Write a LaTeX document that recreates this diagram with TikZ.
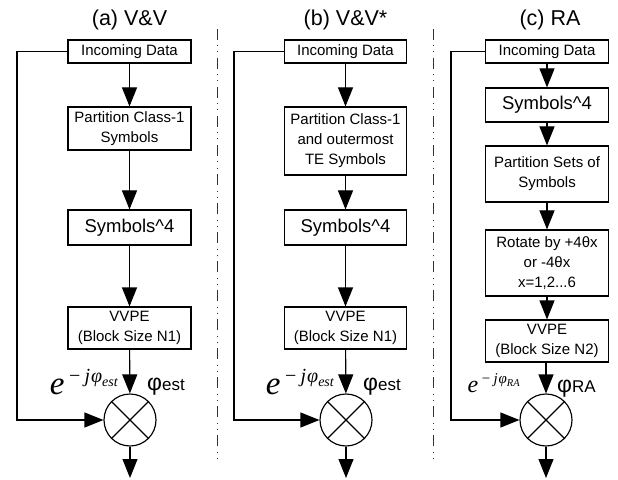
\documentclass[tikz,border=0pt]{standalone}
\usepackage{fontspec}
\setmainfont{Liberation Sans}
\newfontfamily\tms{Liberation Serif}
\usetikzlibrary{arrows.meta}
\newcommand\fsz[2]{\fontsize{#1bp}{#2bp}\selectfont}
\begin{document}
\begin{tikzpicture}[x=1bp,y=-1bp,
  lw/.style={line width=1.15bp},
  box/.style={draw, lw, inner sep=0pt, align=center, minimum width=123bp, fill=white, font=\fsz{15}{20}},
  bigbox/.style={box, font=\fsz{18.5}{22}},
  mix/.style={draw, lw, circle, minimum size=52bp, inner sep=0pt},
  arr/.style={lw, -{Triangle[length=19bp,width=15bp]}},
  ttl/.style={font=\fsz{21.5}{24}, inner sep=0pt},
  sepline/.style={line width=0.8bp, black!80, dash pattern=on 11bp off 5.5bp on 1bp off 5bp on 1bp off 5.5bp},
  lab/.style={inner sep=0pt}
]
\useasboundingbox (0,0) rectangle (618,480);

% ---------- column (a) ----------
\node[ttl] (ta) at (129.5,20) {(a) V\&V};
\node[box, minimum height=23bp] (ia) at (129.5,51.5) {Incoming Data};
\node[box, minimum height=43bp] (pa) at (129.5,128.5) {Partition Class-1\\Symbols};
\node[bigbox, minimum height=35bp] (sa) at (129.5,227.5) {Symbols\^{}4};
\node[box, minimum height=42bp] (va) at (129.5,328) {VVPE\\(Block Size N1)};
\node[mix] (ma) at (130,420) {};
\draw[lw] (ma.north west) -- (ma.south east) (ma.north east) -- (ma.south west);
\coordinate (fa) at (17,420);
\coordinate (oa) at (130,478);
\draw[arr] (ia) -- (pa);
\draw[arr] (pa) -- (sa);
\draw[arr] (sa) -- (va);
\draw[arr] (va) -- (ma);
\draw[arr] (ia.west) -| (fa) -- (ma.west);
\draw[arr] (ma.south) -- (oa);
\node[lab, anchor=base east] (ea) at (118,394) {\tms\itshape\fsz{33}{33}e\raisebox{12bp}{\fsz{20}{20}\,−\,j\kern1bp φ\raisebox{-4bp}{\fsz{14}{14}est}}};
\node[lab, anchor=base west] (pha) at (147,390) {\fsz{23}{23}φ\fsz{17}{17}est};

% ---------- column (b) ----------
\node[ttl] (tb) at (345.5,20) {(b) V\&V*};
\node[box, minimum height=23bp, minimum width=122bp] (ib) at (345.5,51.5) {Incoming Data};
\node[box, minimum height=68bp, minimum width=122bp] (pb) at (345.5,141) {Partition Class-1\\and outermost\\TE Symbols};
\node[bigbox, minimum height=35bp, minimum width=122bp] (sb) at (345.5,227.5) {Symbols\^{}4};
\node[box, minimum height=42bp, minimum width=122bp] (vb) at (345.5,328) {VVPE\\(Block Size N1)};
\node[mix] (mb) at (346,420) {};
\draw[lw] (mb.north west) -- (mb.south east) (mb.north east) -- (mb.south west);
\coordinate (fb) at (234,420);
\coordinate (ob) at (346,478);
\draw[arr] (ib) -- (pb);
\draw[arr] (pb) -- (sb);
\draw[arr] (sb) -- (vb);
\draw[arr] (vb) -- (mb);
\draw[arr] (ib.west) -| (fb) -- (mb.west);
\draw[arr] (mb.south) -- (ob);
\node[lab, anchor=base east] (eb) at (334,394) {\tms\itshape\fsz{33}{33}e\raisebox{12bp}{\fsz{20}{20}\,−\,j\kern1bp φ\raisebox{-4bp}{\fsz{14}{14}est}}};
\node[lab, anchor=base west] (phb) at (363,390) {\fsz{23}{23}φ\fsz{17}{17}est};

% ---------- column (c) ----------
\node[ttl] (tc) at (550,20) {(c) RA};
\node[box, minimum height=23bp] (ic) at (547,51.5) {Incoming Data};
\node[bigbox, minimum height=34bp] (sc) at (547,105) {Symbols\^{}4};
\node[box, minimum height=56bp] (pc) at (547,174) {Partition Sets of\\Symbols};
\node[box, minimum height=66bp] (rc) at (547,263) {Rotate by +4θx\\or -4θx\\x=1,2...6};
\node[box, minimum height=42bp] (vc) at (547,341) {VVPE\\(Block Size N2)};
\node[mix] (mc) at (546,420) {};
\draw[lw] (mc.north west) -- (mc.south east) (mc.north east) -- (mc.south west);
\coordinate (fc) at (451,420);
\coordinate (oc) at (546,478);
\draw[arr] (ic) -- (sc);
\draw[arr] (sc) -- (pc);
\draw[arr] (pc) -- (rc);
\draw[arr] (rc) -- (vc);
\draw[arr] (vc.south -| mc) -- (mc);
\draw[arr] (ic.west) -| (fc) -- (mc.west);
\draw[arr] (mc.south) -- (oc);
\node[lab, anchor=base east] (ec) at (520,392) {\tms\itshape\fsz{24}{24}e\raisebox{9bp}{\fsz{15}{15}\,−\,j\kern1bp φ\raisebox{-3bp}{\fsz{10.5}{10.5}RA}}};
\node[lab, anchor=base west] (phc) at (557,392) {\fsz{23}{23}φ\fsz{17}{17}RA};

% ---------- separators ----------
\coordinate (s1t) at (217,29);
\coordinate (s1b) at (217,462);
\coordinate (s2t) at (433,29);
\coordinate (s2b) at (433,462);
\draw[sepline] (s1t) -- (s1b);
\draw[sepline] (s2t) -- (s2b);
\end{tikzpicture}
\end{document}
